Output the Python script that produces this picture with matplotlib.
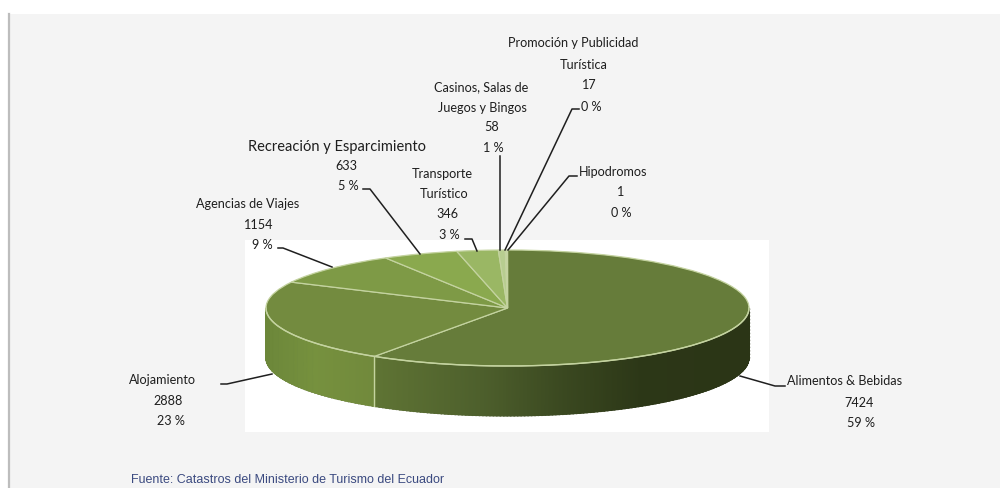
"""Catastro turistico: 3D-looking pie drawn with a squashed pie axes plus a side wall."""

import matplotlib
matplotlib.use("Agg")
import matplotlib.pyplot as plt
from matplotlib.colors import LinearSegmentedColormap
from matplotlib.patches import Rectangle
import numpy as np

categories = ["Alimentos & Bebidas", "Alojamiento", "Agencias de Viajes",
              "Recreación y Esparcimiento", "Transporte Turístico",
              "Casinos, Salas de Juegos y Bingos",
              "Promoción y Publicidad Turística", "Hipodromos"]
values = [7424, 2888, 1154, 633, 346, 58, 17, 1]
percents = ["59 %", "23 %", "9 %", "5 %", "3 %", "1 %", "0 %", "0 %"]
colors = ["#667c3a", "#738b3f", "#7e9a46", "#8aa94e", "#9ab764",
          "#b7cd90", "#c6d9a8", "#d5e3bd"]

# label lines, centred at (x, y) in image pixels
label_lines = [
    [("Alimentos & Bebidas", 845, 381), ("7424", 859, 403), ("59 %", 861, 423)],
    [("Alojamiento", 162, 380), ("2888", 168, 401), ("23 %", 171, 421)],
    [("Agencias de Viajes", 248, 204), ("1154", 259, 225), ("9 %", 262, 245)],
    [("Recreación y Esparcimiento", 337, 147), ("633", 346, 166), ("5 %", 348, 186)],
    [("Transporte", 442, 174), ("Turístico", 444, 194), ("346", 447, 214), ("3 %", 449, 235)],
    [("Casinos, Salas de", 481, 87), ("Juegos y Bingos", 482, 108), ("58", 492, 127), ("1 %", 493, 148)],
    [("Promoción y Publicidad", 573, 43), ("Turística", 584, 65), ("17", 589, 85), ("0 %", 591, 107)],
    [("Hipodromos", 613, 172), ("1", 621, 192), ("0 %", 621, 213)],
]
leaders = [
    [(785, 386), (775, 386), (740, 376)],
    [(221, 384), (227, 384), (272, 374)],
    [(278, 248), (283, 248), (332, 267)],
    [(363, 189), (370, 189), (420, 254)],
    [(465, 239), (472, 239), (477, 251)],
    [(500, 156), (500, 250)],
    [(579, 109), (572, 109), (505, 250)],
    [(577, 176), (569, 176), (508, 250)],
]

W, H = 1000, 488
CX, CY, RX, RY, DEPTH = 507.5, 308, 241.5, 58, 50
BG = "#f4f4f4"
EDGE = "#c4d3a0"

fig = plt.figure(figsize=(W / 100, H / 100), dpi=100, facecolor="white")
plt.rcParams["font.family"] = ["Lato", "DejaVu Sans"]

# page background in pixel coordinates
back = fig.add_axes([0, 0, 1, 1], zorder=0)
back.set_xlim(0, W)
back.set_ylim(H, 0)
back.axis("off")
back.add_patch(Rectangle((9, 14), W - 9, H - 14, color=BG, lw=0))
back.plot([9, 9], [14, H], color="#bdbdbd", lw=1.6)
back.add_patch(Rectangle((245, 240), 524, 192, color="white", lw=0))

# pie axes: one data unit is one radius of the squashed ellipse
pie_ax = fig.add_axes([0, 0, 1, 1], zorder=1)
pie_ax.patch.set_alpha(0)
pie_ax.pie(values, colors=colors, startangle=90, counterclock=False, radius=1,
           wedgeprops={"edgecolor": EDGE, "linewidth": 0.9})
pie_ax.set_aspect("auto")
pie_ax.set_xlim((0 - CX) / RX, (W - CX) / RX)
pie_ax.set_ylim((CY - H) / RY, (CY - 0) / RY)
pie_ax.set_axis_off()

# side wall, only the front half is visible
frac_end = values[0] / sum(values)
split = np.pi / 2 - 2 * np.pi * frac_end     # Alimentos / Alojamiento boundary
theta = np.linspace(np.pi, 2 * np.pi, 600)
x = np.cos(theta)
depth = DEPTH / RY
split_pos = (np.cos(split) + 1) / 2
wall = LinearSegmentedColormap.from_list(
    "wall", [(0, "#6c873a"), (0.10, "#76913e"), (split_pos, "#71893c"), (split_pos + 0.002, "#5f7434"),
             (0.45, "#4d5f2c"), (0.62, "#3a4820"), (0.78, "#2c3717"), (1, "#2b3516")])
pos = (x + 1) / 2
xs = np.column_stack([x, x])
ys = np.column_stack([np.sin(theta), np.sin(theta) - depth])
zs = np.column_stack([pos, pos])
pie_ax.pcolormesh(xs, ys, zs, cmap=wall, vmin=0, vmax=1, shading="gouraud", zorder=0.5)
pie_ax.plot(x, np.sin(theta), color=EDGE, lw=1.0, zorder=2)
pie_ax.plot(x, np.sin(theta) - depth, color="#3a4222", lw=1.0, ls=(0, (1, 1.5)), alpha=0.7, zorder=0.4)
pie_ax.plot([-1, -1], [0, -depth], color="#4c5c2a", lw=1.0, ls=(0, (1, 1.5)), alpha=0.7, zorder=0.4)
pie_ax.plot([1, 1], [0, -depth], color="#2b3516", lw=1.0, ls=(0, (1, 1.5)), zorder=0.4)
pie_ax.plot([np.cos(split)] * 2, [np.sin(split), np.sin(split) - depth], color=EDGE, lw=1.0, zorder=2)

# labels and leader lines
over = fig.add_axes([0, 0, 1, 1], zorder=2)
over.set_xlim(0, W)
over.set_ylim(H, 0)
over.axis("off")
over.patch.set_alpha(0)
for lines, leader in zip(label_lines, leaders):
    for txt, lx, ly in lines:
        size = 10.5 if txt.startswith("Recreación") else 9.1
        over.text(lx, ly, txt, ha="center", va="center", fontsize=size, color="#1e1e1e")
    over.plot(*zip(*leader), color="#1f1f1f", lw=1.1, solid_joinstyle="round")

over.text(131, 480, "Fuente: Catastros del Ministerio de Turismo del Ecuador", ha="left", va="center",
          fontsize=9.0, color="#3b4a80", family=["Liberation Sans", "DejaVu Sans"])

fig.savefig("out.png", dpi=100, facecolor="white")
